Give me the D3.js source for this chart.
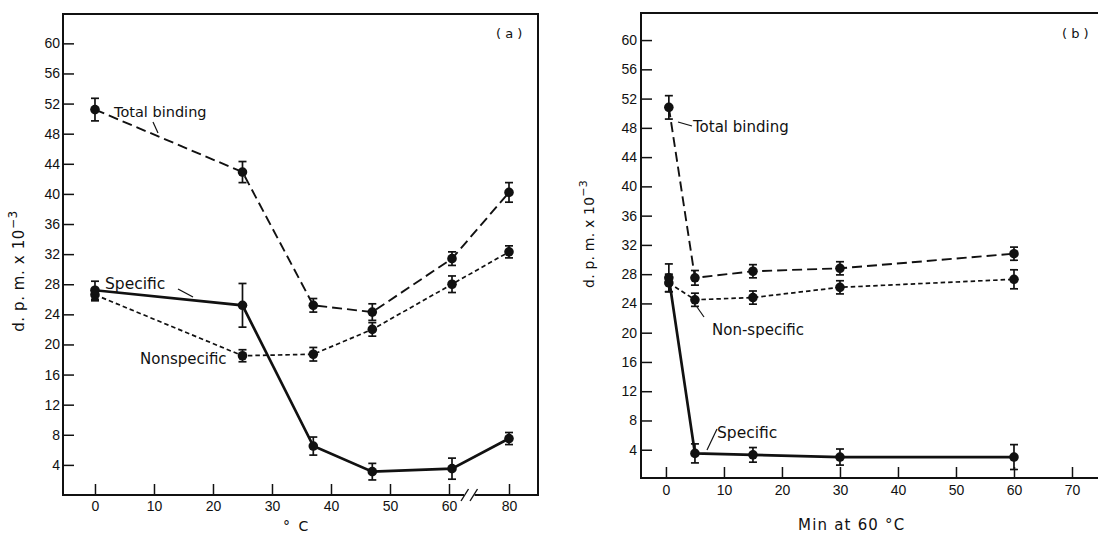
<!DOCTYPE html>
<html>
<head>
<meta charset="utf-8">
<script src="https://cdn.jsdelivr.net/npm/d3@7/dist/d3.min.js"></script>
<style>
  body { margin: 0; background: #fff; }
  svg { display: block; font-family: "DejaVu Sans", sans-serif; }
  .tick text { font-size: 14px; fill: #111; }
  .tick line { stroke: #111; stroke-width: 1.5; }
</style>
</head>
<body>
<div id="chart"></div>
<script>
// ---- panel (a): binding vs temperature ----
const tempC = [0, 25, 37, 47, 61, 80];
const aTotal = [51.2, 42.9, 25.2, 24.3, 31.4, 40.2];
const aTotalErr = [1.5, 1.4, 0.9, 1.1, 0.9, 1.3];
const aNonspecific = [26.6, 18.5, 18.7, 22.0, 28.0, 32.3];
const aNonspecificErr = [0.8, 0.8, 0.9, 0.9, 1.1, 0.8];
const aSpecific = [27.2, 25.2, 6.5, 3.1, 3.5, 7.5];
const aSpecificErr = [1.2, 2.9, 1.2, 1.1, 1.4, 0.8];

// ---- panel (b): binding vs minutes at 60 °C ----
const minutes = [0.5, 5, 15, 30, 60];
const bTotal = [50.8, 27.5, 28.4, 28.8, 30.8];
const bTotalErr = [1.6, 1.0, 0.9, 0.9, 0.9];
const bNonspecific = [26.8, 24.5, 24.8, 26.2, 27.3];
const bNonspecificErr = [1.2, 0.9, 0.9, 0.9, 1.3];
const bSpecific = [27.5, 3.5, 3.3, 3.0, 3.0];
const bSpecificErr = [1.9, 1.3, 1.0, 1.1, 1.7];

// tick labels
const yTicks = [4, 8, 12, 16, 20, 24, 28, 32, 36, 40, 44, 48, 52, 56, 60];
const aXTicks = [0, 10, 20, 30, 40, 50, 60, 80];
const bXTicks = [0, 10, 20, 30, 40, 50, 60, 70];

const W = 1098, H = 538;
const svg = d3.select('#chart').append('svg').attr('width', W).attr('height', H);

const lineStyles = {
    total: { dash: '10,5', width: 1.9 },
    nonspecific: { dash: '4.5,3', width: 1.7 },
    specific: { dash: null, width: 2.7 }
};

function drawSeries(g, xs, ys, errs, x, y, style) {
    const pts = xs.map((v, i) => ({ x: v, y: ys[i], e: errs[i] }));
    const line = d3.line().x(d => x(d.x)).y(d => y(d.y));
    g.append('path')
        .datum(pts)
        .attr('fill', 'none')
        .attr('stroke', '#111')
        .attr('stroke-width', style.width)
        .attr('stroke-dasharray', style.dash)
        .attr('d', line);

    const eb = g.append('g').selectAll('g').data(pts).enter().append('g')
        .attr('stroke', '#111').attr('stroke-width', 1.7);
    eb.append('line')
        .attr('x1', d => x(d.x)).attr('x2', d => x(d.x))
        .attr('y1', d => y(d.y + d.e)).attr('y2', d => y(d.y - d.e));
    eb.append('line')
        .attr('x1', d => x(d.x) - 4).attr('x2', d => x(d.x) + 4)
        .attr('y1', d => y(d.y + d.e)).attr('y2', d => y(d.y + d.e));
    eb.append('line')
        .attr('x1', d => x(d.x) - 4).attr('x2', d => x(d.x) + 4)
        .attr('y1', d => y(d.y - d.e)).attr('y2', d => y(d.y - d.e));

    g.append('g').selectAll('circle').data(pts).enter().append('circle')
        .attr('cx', d => x(d.x)).attr('cy', d => y(d.y))
        .attr('r', 4.8).attr('fill', '#111');
}

function label(g, x, y, txt, size, spacing) {
    g.append('text').attr('x', x).attr('y', y)
        .attr('font-size', size)
        .attr('letter-spacing', spacing || 0)
        .attr('fill', '#111')
        .text(txt);
}

function leader(g, x1, y1, x2, y2) {
    g.append('line').attr('x1', x1).attr('y1', y1).attr('x2', x2).attr('y2', y2)
        .attr('stroke', '#111').attr('stroke-width', 1.2);
}

function yTitle(g, cx, cy, size, spacing) {
    const t = g.append('text')
        .attr('transform', `translate(${cx},${cy}) rotate(-90)`)
        .attr('text-anchor', 'middle')
        .attr('font-size', size)
        .attr('letter-spacing', spacing)
        .attr('fill', '#111');
    t.append('tspan').text('d. p. m. x 10');
    t.append('tspan').attr('dy', -7).attr('font-size', size - 3).text('−3');
}

// ================= panel (a) =================
const gA = svg.append('g');
const xA = d3.scaleLinear().domain([-5.42, 60, 80, 84.9]).range([63, 449, 509, 538]);
const yA = d3.scaleLinear().domain([0, 63.9]).range([495, 14]);

gA.append('g')
    .attr('transform', `translate(${xA.range()[0]},0)`)
    .call(d3.axisLeft(yA).tickValues(yTicks).tickSize(-11).tickPadding(3).tickSizeOuter(0))
    .call(s => s.select('.domain').remove());

gA.append('g')
    .attr('transform', `translate(0,${yA(0)})`)
    .call(d3.axisBottom(xA).tickValues(aXTicks).tickSize(-11).tickPadding(6).tickSizeOuter(0))
    .call(s => s.select('.domain').remove());

// frame with axis break
const frameA = gA.append('g').attr('stroke', '#111').attr('stroke-width', 2).attr('fill', 'none');
frameA.append('path').attr('d', `M${xA(65)},${yA(0)} H63 V14 H538 V${yA(0)} H${xA(68.5)}`);
frameA.append('line').attr('x1', xA(64)).attr('y1', yA(0) + 6).attr('x2', xA(66.5)).attr('y2', yA(0) - 6).attr('stroke-width', 1.4);
frameA.append('line').attr('x1', xA(67)).attr('y1', yA(0) + 6).attr('x2', xA(69.5)).attr('y2', yA(0) - 6).attr('stroke-width', 1.4);

drawSeries(gA, tempC, aTotal, aTotalErr, xA, yA, lineStyles.total);
drawSeries(gA, tempC, aNonspecific, aNonspecificErr, xA, yA, lineStyles.nonspecific);
drawSeries(gA, tempC, aSpecific, aSpecificErr, xA, yA, lineStyles.specific);

label(gA, 114, 117, 'Total binding', 14.5);
leader(gA, 153, 122, 158, 133);
label(gA, 105, 289, 'Specific', 15.5);
leader(gA, 178, 289, 193, 297);
label(gA, 140, 364, 'Nonspecific', 15);
label(gA, 496, 38, '( a )', 13);
yTitle(gA, 24, 271, 15, 0.6);
label(gA, 283, 531, '° C', 14, 2);

// ================= panel (b) =================
const gB = svg.append('g');
const xB = d3.scaleLinear().domain([-4.3, 75]).range([641, 1101]);
const yB = d3.scaleLinear().domain([0, 63.7]).range([479, 13]);
const bBottom = 478;

gB.append('g')
    .attr('transform', `translate(${xB.range()[0]},0)`)
    .call(d3.axisLeft(yB).tickValues(yTicks).tickSize(-11).tickPadding(4).tickSizeOuter(0))
    .call(s => s.select('.domain').remove());

gB.append('g')
    .attr('transform', `translate(0,${bBottom})`)
    .call(d3.axisBottom(xB).tickValues(bXTicks).tickSize(-11).tickPadding(7).tickSizeOuter(0))
    .call(s => s.select('.domain').remove());

gB.append('path')
    .attr('d', `M${W},${bBottom} H641 V13 H${W}`)
    .attr('fill', 'none').attr('stroke', '#111').attr('stroke-width', 2);

drawSeries(gB, minutes, bTotal, bTotalErr, xB, yB, lineStyles.total);
drawSeries(gB, minutes, bNonspecific, bNonspecificErr, xB, yB, lineStyles.nonspecific);
drawSeries(gB, minutes, bSpecific, bSpecificErr, xB, yB, lineStyles.specific);

label(gB, 693, 132, 'Total binding', 15);
leader(gB, 678, 122, 692, 126);
label(gB, 712, 335, 'Non-specific', 15);
leader(gB, 697, 307, 704, 317);
label(gB, 717, 438, 'Specific', 15.5);
leader(gB, 707, 450, 717, 429);
label(gB, 1062, 38, '( b )', 13);
yTitle(gB, 594, 234, 14, 0.2);
label(gB, 798, 530, 'Min at 60 °C', 15, 1.2);
</script>
</body>
</html>
